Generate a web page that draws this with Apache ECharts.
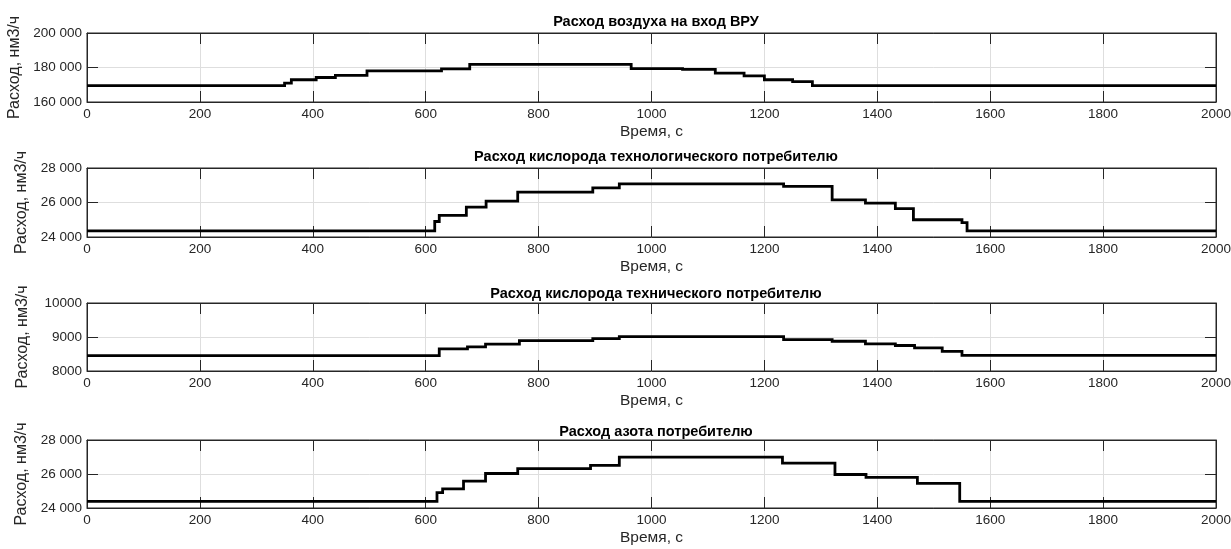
<!DOCTYPE html>
<html>
<head>
<meta charset="utf-8">
<script src="https://cdn.jsdelivr.net/npm/echarts@6/dist/echarts.min.js"></script>
<style>
html, body { margin: 0; padding: 0; background: #fff; }
#chart { width: 1231px; height: 549px; }
</style>
</head>
<body>
<div id="chart"></div>
<script>
var myChart = echarts.init(document.getElementById('chart'));

// заголовки графиков
var titles = [
    'Расход воздуха на вход ВРУ',
    'Расход кислорода технологического потребителю',
    'Расход кислорода технического потребителю',
    'Расход азота потребителю'
];

// время переключения ступеней, с  /  расход после переключения, нм3/ч
var airTime = [0, 350, 362, 406, 440, 496, 628, 678, 964, 1055, 1113, 1164, 1200, 1250, 1285, 2000];
var airFlow = [169500, 171000, 172900, 174200, 175400, 178000, 179200, 181800, 179400, 178900, 176700, 175200, 172900, 171800, 169500, 169500];

var o2TechnoTime = [0, 616, 624, 672, 707, 763, 896, 943, 1234, 1320, 1379, 1432, 1464, 1550, 1559, 2000];
var o2TechnoFlow = [24350, 24900, 25250, 25730, 26080, 26600, 26850, 27080, 26940, 26150, 25960, 25650, 25000, 24830, 24350, 24350];

var o2TechTime = [0, 624, 674, 706, 766, 896, 943, 1234, 1320, 1379, 1432, 1466, 1515, 1550, 2000];
var o2TechFlow = [8450, 8650, 8710, 8790, 8895, 8950, 9010, 8925, 8875, 8800, 8750, 8680, 8580, 8460, 8460];

var n2Time = [0, 620, 630, 667, 706, 763, 892, 943, 1232, 1325, 1380, 1471, 1546, 2000];
var n2Flow = [24390, 24900, 25120, 25580, 26030, 26320, 26510, 26990, 26640, 25970, 25800, 25450, 24390, 24390];

// диапазоны оси Y
var yMin = [160000, 24000, 8000, 24000];
var yMax = [200000, 28000, 10000, 28000];
var yStep = [20000, 2000, 1000, 2000];
var ySpaced = [true, true, false, true];

var series = [
    [airTime, airFlow],
    [o2TechnoTime, o2TechnoFlow],
    [o2TechTime, o2TechFlow],
    [n2Time, n2Flow]
];

var gridTop = [33, 168, 303, 440];
var gridH = [69, 69, 68, 68];
var titleY = [17, 152, 289, 427];

var font = 'Liberation Sans, Arial, sans-serif';
var axisColor = '#262626';

function fmtThousands(v, spaced) {
    if (!spaced) return String(v);
    return String(v).replace(/\B(?=(\d{3})+(?!\d))/g, ' ');
}

// ступенчатая линия -> список точек
function stepCoords(t, v) {
    var pts = [];
    for (let k = 0; k < t.length; k++) {
        if (k > 0) pts.push([t[k], v[k - 1]]);
        pts.push([t[k], v[k]]);
    }
    return pts;
}

var option = {
    animation: false,
    backgroundColor: '#fff',
    title: [],
    grid: [],
    xAxis: [],
    yAxis: [],
    series: []
};

for (let i = 0; i < 4; i++) {
    option.title.push({
        text: titles[i],
        left: 651,
        top: titleY[i] - 8,
        textAlign: 'center',
        textStyle: { fontFamily: font, fontSize: 14.5, fontWeight: 'bold', color: '#000' }
    });
    option.grid.push({
        left: 87, right: 15, top: gridTop[i], height: gridH[i],
        containLabel: false, outerBoundsMode: 'none',
        show: true, borderColor: axisColor, borderWidth: 1, backgroundColor: 'transparent'
    });
    // нижняя ось X
    option.xAxis.push({
        type: 'value', gridIndex: i, min: 0, max: 2000, interval: 200,
        name: 'Время, с', nameLocation: 'middle', nameGap: 22,
        nameTextStyle: { fontFamily: font, fontSize: 15.5, color: axisColor },
        axisLine: { show: true, onZero: false, lineStyle: { color: axisColor } },
        axisTick: { show: true, inside: true, length: 11, lineStyle: { color: axisColor } },
        axisLabel: { fontFamily: font, fontSize: 13.5, color: axisColor, margin: 5, formatter: v => String(v) },
        splitLine: { show: true, lineStyle: { color: '#dedede', width: 1 } }
    });
    // верхняя ось X (только засечки)
    option.xAxis.push({
        type: 'value', gridIndex: i, min: 0, max: 2000, interval: 200, position: 'top',
        axisLine: { show: true, onZero: false, lineStyle: { color: axisColor } },
        axisTick: { show: true, inside: true, length: 11, lineStyle: { color: axisColor } },
        axisLabel: { show: false },
        splitLine: { show: false }
    });
    option.yAxis.push({
        type: 'value', gridIndex: i, min: yMin[i], max: yMax[i], interval: yStep[i],
        name: 'Расход, нм3/ч', nameLocation: 'middle', nameGap: 56, nameRotate: 90,
        nameTextStyle: { fontFamily: font, fontSize: 16, color: axisColor },
        axisLine: { show: true, onZero: false, lineStyle: { color: axisColor } },
        axisTick: { show: true, inside: true, length: 11, lineStyle: { color: axisColor } },
        axisLabel: {
            fontFamily: font, fontSize: 13.5, color: axisColor, margin: 5,
            formatter: (function (sp) { return function (v) { return fmtThousands(v, sp); }; })(ySpaced[i])
        },
        splitLine: { show: true, lineStyle: { color: '#dedede', width: 1 } }
    });
    option.yAxis.push({
        type: 'value', gridIndex: i, min: yMin[i], max: yMax[i], interval: yStep[i], position: 'right',
        axisLine: { show: true, onZero: false, lineStyle: { color: axisColor } },
        axisTick: { show: true, inside: true, length: 11, lineStyle: { color: axisColor } },
        axisLabel: { show: false },
        splitLine: { show: false }
    });
    option.series.push({
        type: 'lines',
        coordinateSystem: 'cartesian2d',
        xAxisIndex: i * 2,
        yAxisIndex: i * 2,
        polyline: true,
        silent: true,
        data: [{ coords: stepCoords(series[i][0], series[i][1]) }],
        lineStyle: { color: '#000', width: 2.8, opacity: 1 }
    });
}

myChart.setOption(option);
</script>
</body>
</html>
